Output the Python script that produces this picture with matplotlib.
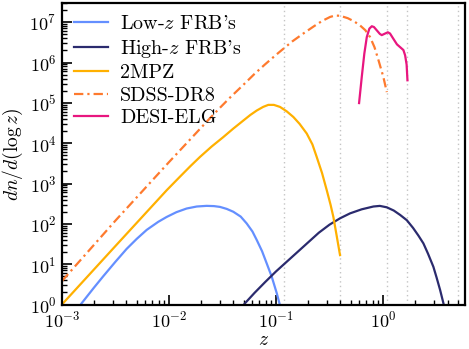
import matplotlib
matplotlib.use("Agg")
import matplotlib.pyplot as plt
import numpy as np
from matplotlib.ticker import LogLocator

plt.rcParams['font.family'] = 'serif'
plt.rcParams['font.serif'] = ['cmr10', 'DejaVu Serif']
plt.rcParams['mathtext.fontset'] = 'cm'
plt.rcParams['axes.formatter.use_mathtext'] = True

# ---- data (log10 z, log10 dn/dlogz) ----
lowz_logz = [-2.85, -2.816, -2.7, -2.614, -2.5, -2.395, -2.3, -2.208, -2.1, -2.022,
             -1.93, -1.835, -1.74, -1.648, -1.58, -1.523, -1.46, -1.399, -1.33,
             -1.274, -1.22, -1.18, -1.13, -1.087, -1.04, -0.993, -0.96]
lowz_logn = [-0.1, 0.03, 0.42, 0.70, 1.06, 1.38, 1.63, 1.85, 2.05, 2.17,
             2.29, 2.38, 2.43, 2.446, 2.44, 2.42, 2.37, 2.30, 2.18,
             2.01, 1.81, 1.60, 1.32, 1.02, 0.69, 0.28, -0.05]

highz_logz = [-1.32, -1.29, -1.2, -1.1, -1.0, -0.9, -0.8, -0.7, -0.6, -0.5, -0.4,
              -0.308, -0.2, -0.09, -0.03, 0.035, 0.1, 0.16, 0.222, 0.28, 0.33,
              0.377, 0.42, 0.47, 0.5, 0.533, 0.564, 0.575]
highz_logn = [-0.08, 0.03, 0.29, 0.56, 0.82, 1.06, 1.30, 1.54, 1.78, 1.98, 2.14,
              2.26, 2.36, 2.43, 2.445, 2.41, 2.33, 2.22, 2.09, 1.90, 1.71,
              1.515, 1.26, 0.936, 0.67, 0.36, 0.03, -0.1]

mpz_logz = [-3.0, -2.5, -2.021, -1.897, -1.8, -1.71, -1.6, -1.493, -1.4, -1.306,
            -1.24, -1.18, -1.12, -1.072, -1.02, -0.963, -0.9, -0.838, -0.78,
            -0.713, -0.66, -0.62, -0.57, -0.526, -0.49, -0.464, -0.433, -0.402]
mpz_logn = [0.0, 1.45, 2.834, 3.17, 3.43, 3.66, 3.92, 4.15, 4.36, 4.56,
            4.70, 4.81, 4.90, 4.95, 4.95, 4.90, 4.79, 4.65, 4.48,
            4.24, 3.97, 3.66, 3.26, 2.834, 2.47, 2.17, 1.70, 1.225]

sdss_logz = [-3.0, -2.5, -2.0, -1.617, -1.523, -1.43, -1.3, -1.2, -1.1, -1.0,
             -0.932, -0.85, -0.75, -0.651, -0.57, -0.495, -0.45, -0.402, -0.33,
             -0.27, -0.215, -0.165, -0.121, -0.08, -0.044, 0.003, 0.035]
sdss_logn = [0.58, 2.08, 3.53, 4.62, 4.88, 5.13, 5.46, 5.72, 5.96, 6.19,
             6.34, 6.52, 6.71, 6.89, 7.03, 7.13, 7.165, 7.16, 7.10,
             7.02, 6.92, 6.80, 6.63, 6.38, 6.07, 5.64, 5.267]

desi_logz = [-0.224, -0.199, -0.175, -0.152, -0.128, -0.105, -0.085, -0.059, -0.03,
             -0.012, 0.02, 0.045, 0.065, 0.096, 0.13, 0.16, 0.19, 0.206, 0.22, 0.228]
desi_logn = [4.995, 5.64, 6.22, 6.63, 6.84, 6.90, 6.88, 6.80, 6.71,
             6.68, 6.72, 6.75, 6.72, 6.59, 6.45, 6.38, 6.31, 6.18, 5.95, 5.56]

vlines_z = [0.12, 0.4, 1.09, 1.67, 5.0]

series = [
    (lowz_logz, lowz_logn, "Low-$z$ FRB's", '#648FFF', '-'),
    (highz_logz, highz_logn, "High-$z$ FRB's", '#2B2B6E', '-'),
    (mpz_logz, mpz_logn, '2MPZ', '#FFB000', '-'),
    (sdss_logz, sdss_logn, 'SDSS-DR8', '#FE7A2E', (0, (4.2, 1.8, 1.0, 1.8))),
    (desi_logz, desi_logn, 'DESI-ELG', '#E8167F', '-'),
]

fig = plt.figure(figsize=(4.69, 3.49), dpi=100)
ax = fig.add_axes([0.132, 0.1275, 0.859, 0.864])

for zv in vlines_z:
    ax.axvline(zv, color='#c4c4c4', lw=1.0, ls=(0, (1, 2.3)), zorder=0)

for lz, ln, lab, col, ls in series:
    ax.plot(10 ** np.array(lz), 10 ** np.array(ln), color=col, lw=1.6, ls=ls, label=lab)

ax.set_xscale('log')
ax.set_yscale('log')
ax.set_xlim(1e-3, 5.8)
ax.set_ylim(1, 3e7)

ax.tick_params(which='both', direction='in', top=False, right=False, labelsize=13)
ax.tick_params(which='major', length=7, width=1.2, pad=4)
ax.tick_params(which='minor', length=3.5, width=1.0)
ax.yaxis.set_major_locator(LogLocator(base=10, numticks=20))
ax.yaxis.set_minor_locator(LogLocator(base=10, subs=np.arange(2, 10), numticks=20))
for s in ax.spines.values():
    s.set_linewidth(1.6)

ax.set_xlabel('$z$', fontsize=14, labelpad=0)
ax.set_ylabel(r'$dn/d(\log z)$', fontsize=14, labelpad=3)

leg = ax.legend(loc='upper left', frameon=False, fontsize=14.5, handlelength=1.7,
                borderaxespad=0.2, borderpad=0.4, labelspacing=0.22, handletextpad=0.6)

fig.savefig('out.png', dpi=100)
